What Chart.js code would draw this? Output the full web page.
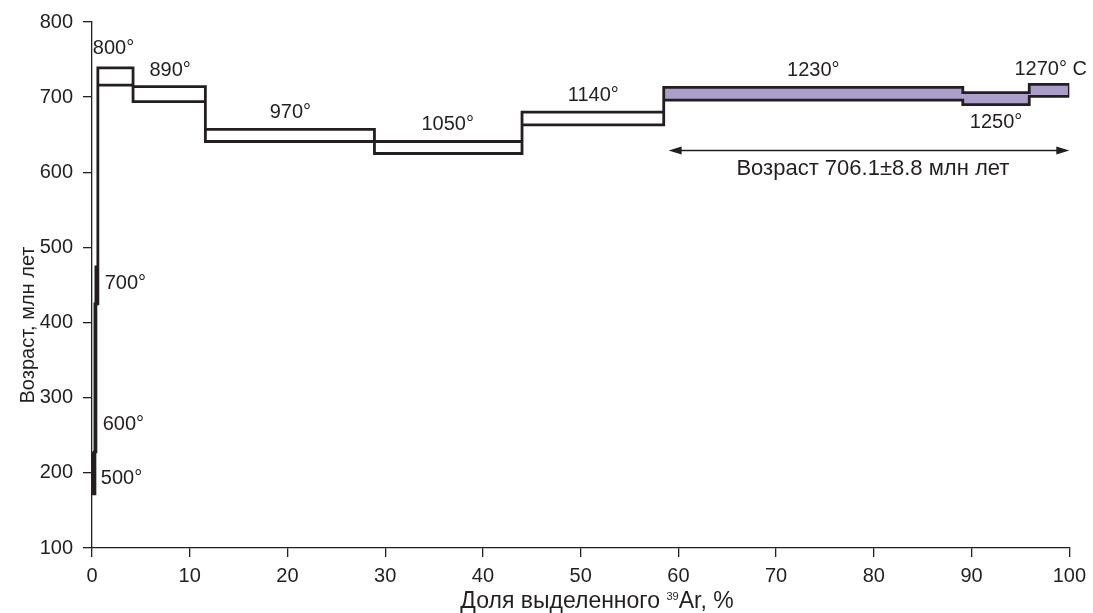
<!DOCTYPE html>
<html><head><meta charset="utf-8">
<script src="https://cdn.jsdelivr.net/npm/chart.js@4/dist/chart.umd.min.js"></script>
<style>html,body{margin:0;padding:0;background:#fff;} #wrap{width:1093px;height:613px;position:relative;}</style>
</head><body><div id="wrap"><canvas id="c"></canvas></div>
<script>
// ---- data ----
const temps   = ['500°','600°','700°','800°','890°','970°','1050°','1140°','1230°','1250°','1270° C'];
const xStart  = [0.1, 0.3, 0.4, 0.6, 4.2, 11.6, 28.9, 44.0, 58.5, 89.1, 95.9];
const xEnd    = [0.3, 0.4, 0.6, 4.2, 11.6, 28.9, 44.0, 58.5, 89.1, 95.9, 100];
const ageLow  = [172, 228, 425, 716, 694, 641, 625, 663, 696, 690, 701];
const ageHigh = [228, 425, 474, 739, 714, 657, 641, 680, 713, 706, 717];
const inPlateau = [false,false,false,false,false,false,false,false,true,true,true];
const xTicks = [0,10,20,30,40,50,60,70,80,90,100];
const yTicks = [100,200,300,400,500,600,700,800];
const plateauText = 'Возраст 706.1±8.8 млн лет';
const yTitle = 'Возраст, млн лет';
const xTitleParts = ['Доля выделенного ', '39', 'Ar, %'];
// label anchors (data units)
const labelX = [0.9, 1.1, 1.3, 2.2, 8.0, 20.3, 36.4, 51.3, 73.8, 92.5, 98.1];
const labelY = [192, 265, 452, 765, 735, 680, 663, 702, 735, 666, 737];
const labelLeftAligned = [true,true,true,false,false,false,false,false,false,false,false];
const plateauArrow = {from: 59.0, to: 100, age: 630, textX: 79.9, textAge: 605};

const INK = '#231f20';
const PURPLE = '#ab9fca';
const FONT = '"Liberation Sans", Arial, Helvetica, sans-serif';

// outline (upper steps then lower steps back)
const outline = [];
for (let i = 0; i < temps.length; i++) {
  outline.push({x: xStart[i], y: ageHigh[i]}, {x: xEnd[i], y: ageHigh[i]});
}
for (let i = temps.length - 1; i >= 0; i--) {
  outline.push({x: xEnd[i], y: ageLow[i]}, {x: xStart[i], y: ageLow[i]});
}
outline.push({x: xStart[0], y: ageHigh[0]});

const datasets = [{
  data: outline, showLine: true, fill: false, borderColor: INK, borderWidth: 2.8,
  pointRadius: 0, borderJoinStyle: 'miter', tension: 0, order: 0
}];
for (let i = 0; i < temps.length; i++) {
  if (!inPlateau[i]) continue;
  datasets.push({
    data: [{x: xStart[i], y: ageLow[i]}, {x: xEnd[i], y: ageLow[i]}, {x: xEnd[i], y: ageHigh[i]},
           {x: xStart[i], y: ageHigh[i]}, {x: xStart[i], y: ageLow[i]}],
    showLine: true, fill: 'shape', backgroundColor: PURPLE, borderWidth: 0,
    borderColor: 'rgba(0,0,0,0)', pointRadius: 0, order: 5
  });
}

const annot = {
  id: 'annot',
  afterDatasetsDraw(chart) {
    const {ctx, scales: {x, y}} = chart;
    ctx.save();
    ctx.fillStyle = INK;
    ctx.font = '20px ' + FONT;
    ctx.textBaseline = 'middle';
    for (let i = 0; i < temps.length; i++) {
      ctx.textAlign = labelLeftAligned[i] ? 'left' : 'center';
      ctx.fillText(temps[i], x.getPixelForValue(labelX[i]), y.getPixelForValue(labelY[i]));
    }
    // arrow
    const x1 = x.getPixelForValue(plateauArrow.from), x2 = x.getPixelForValue(plateauArrow.to);
    const ya = Math.round(y.getPixelForValue(plateauArrow.age)) + 0.5;
    ctx.strokeStyle = INK; ctx.lineWidth = 1.4;
    ctx.beginPath(); ctx.moveTo(x1 + 6, ya); ctx.lineTo(x2 - 6, ya); ctx.stroke();
    ctx.beginPath(); ctx.moveTo(x1, ya); ctx.lineTo(x1 + 13, ya - 4); ctx.lineTo(x1 + 13, ya + 4); ctx.closePath(); ctx.fill();
    ctx.beginPath(); ctx.moveTo(x2, ya); ctx.lineTo(x2 - 13, ya - 4); ctx.lineTo(x2 - 13, ya + 4); ctx.closePath(); ctx.fill();
    ctx.textAlign = 'center';
    ctx.font = '22px ' + FONT;
    ctx.fillText(plateauText, x.getPixelForValue(plateauArrow.textX), y.getPixelForValue(plateauArrow.textAge));
    ctx.restore();
  },
  afterDraw(chart) {
    const {ctx} = chart;
    ctx.save();
    ctx.fillStyle = INK;
    // x title with superscript
    const big = '23px ' + FONT, small = '11px ' + FONT;
    ctx.font = big; const w0 = ctx.measureText(xTitleParts[0]).width; const w2 = ctx.measureText(xTitleParts[2]).width;
    ctx.font = small; const w1 = ctx.measureText(xTitleParts[1]).width;
    const total = w0 + w1 + w2;
    let cx = 597 - total / 2;
    const base = 608;
    ctx.textAlign = 'left'; ctx.textBaseline = 'alphabetic';
    ctx.font = big; ctx.fillText(xTitleParts[0], cx, base); cx += w0;
    ctx.font = small; ctx.fillText(xTitleParts[1], cx, base - 8); cx += w1;
    ctx.font = big; ctx.fillText(xTitleParts[2], cx, base);
    // y title
    ctx.translate(34, 325); ctx.rotate(-Math.PI / 2);
    ctx.font = '20px ' + FONT; ctx.textAlign = 'center';
    ctx.fillText(yTitle, 0, 0);
    ctx.restore();
  }
};

new Chart(document.getElementById('c'), {
  type: 'scatter',
  data: {datasets},
  options: {
    responsive: true, maintainAspectRatio: false, animation: false,
    layout: {padding: {top: 19, right: 21, left: 0, bottom: 0}},
    plugins: {legend: {display: false}, tooltip: {enabled: false}},
    scales: {
      x: {
        type: 'linear', min: 0, max: 100,
        afterBuildTicks: s => { s.ticks = xTicks.map(v => ({value: v})); },
        ticks: {color: INK, font: {family: FONT, size: 20}, padding: 7, maxRotation: 0},
        grid: {drawOnChartArea: false, drawTicks: true, tickLength: 9, color: INK, lineWidth: 1.3},
        border: {display: true, color: INK, width: 1.3},
        afterFit: s => { s.height = 65; }
      },
      y: {
        type: 'linear', min: 100, max: 800,
        afterBuildTicks: s => { s.ticks = yTicks.map(v => ({value: v})); },
        ticks: {color: INK, font: {family: FONT, size: 20}, padding: 10},
        grid: {drawOnChartArea: false, drawTicks: true, tickLength: 9, color: INK, lineWidth: 1.3},
        border: {display: true, color: INK, width: 1.3},
        afterFit: s => { s.width = 92; }
      }
    }
  },
  plugins: [annot]
});
</script></body></html>
